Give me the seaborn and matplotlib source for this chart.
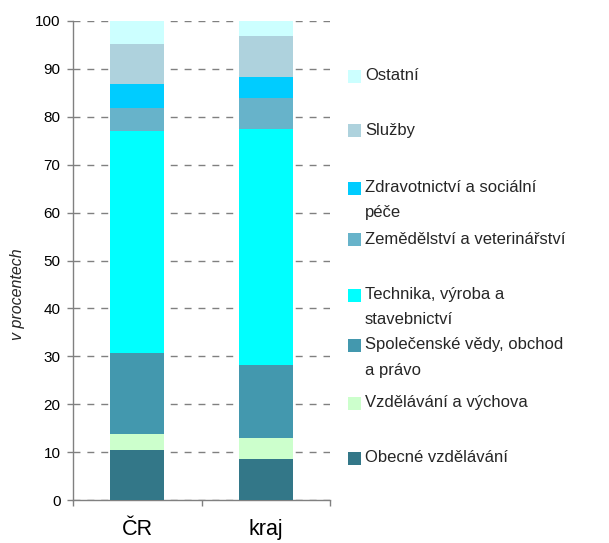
import matplotlib
matplotlib.use("Agg")
import matplotlib.pyplot as plt
import numpy as np
import pandas as pd
import seaborn as sns
from matplotlib.patches import Rectangle

# ---------------- data ----------------
regions = ["ČR", "kraj"]
fields = [
    "Obecné vzdělávání",
    "Vzdělávání a výchova",
    "Společenské vědy, obchod a právo",
    "Technika, výroba a stavebnictví",
    "Zemědělství a veterinářství",
    "Zdravotnictví a sociální péče",
    "Služby",
    "Ostatní",
]
legend_lines = [
    ["Obecné vzdělávání"],
    ["Vzdělávání a výchova"],
    ["Společenské vědy, obchod", "a právo"],
    ["Technika, výroba a", "stavebnictví"],
    ["Zemědělství a veterinářství"],
    ["Zdravotnictví a sociální", "péče"],
    ["Služby"],
    ["Ostatní"],
]
cr_values = [10.4, 3.3, 17.0, 46.4, 4.8, 5.0, 8.4, 4.7]
kraj_values = [8.5, 4.4, 15.3, 49.3, 6.5, 4.4, 8.5, 3.1]
colors = ["#337788", "#CCFFCC", "#4398AE", "#00FFFF",
          "#67B3CA", "#00CCFF", "#AED2DD", "#CCFFFF"]
yticks = list(range(0, 101, 10))
ylabel = "v procentech"

# ---------------- build table ----------------
rows = []
for reg, vals in zip(regions, [cr_values, kraj_values]):
    cum = np.cumsum(vals)
    for f, v, top in zip(fields, vals, cum):
        rows.append({"region": reg, "field": f, "value": v, "top": top})
df = pd.DataFrame(rows)

# ---------------- figure ----------------
sns.set_style("white")
plt.rcParams["font.family"] = ["Liberation Sans", "DejaVu Sans"]

W, H = 609, 543
fig = plt.figure(figsize=(W / 100, H / 100), dpi=100)
ax = fig.add_axes([73 / W, 1 - 500 / H, 257 / W, 479 / H])

# stacked bars: draw cumulative tops from largest to smallest
for f, c in reversed(list(zip(fields, colors))):
    sub = df[df["field"] == f]
    sns.barplot(data=sub, x="region", y="top", order=regions, color=c,
                saturation=1, width=0.42, errorbar=None, linewidth=0,
                ax=ax, zorder=3)

ax.set_xlim(-0.5, 1.5)
ax.set_ylim(0, 100)
ax.set_yticks(yticks)
ax.set_yticklabels([str(t) for t in yticks], fontsize=11)
ax.set_xlabel("")
ax.set_ylabel("")

# grid
ax.set_axisbelow(True)
ax.yaxis.grid(True, color="#808080", linestyle=(0, (5, 5)), linewidth=1.0, zorder=0)
ax.xaxis.grid(False)

# spines
for s in ["top", "right"]:
    ax.spines[s].set_visible(False)
for s in ["left", "bottom"]:
    ax.spines[s].set_color("#808080")
    ax.spines[s].set_linewidth(1.0)

ax.tick_params(axis="y", direction="out", length=4, width=1, color="#808080",
               left=True, pad=5, labelcolor="black")
ax.tick_params(axis="x", which="major", length=0, pad=14, labelsize=15.5,
               labelcolor="black")
ax.set_xticks([-0.5, 0.5, 1.5], minor=True)
ax.tick_params(axis="x", which="minor", direction="out", length=4, width=1,
               color="#808080", bottom=True)

# y label
fig.text(18 / W, 1 - 294 / H, ylabel, rotation=90, ha="center", va="center",
         style="italic", fontsize=11.5)

# legend (manual, Excel-like layout), top entry first
legend_y = [76, 130, 188, 239, 295, 345, 403, 458]
order = list(range(len(fields)))[::-1]
for yy, i in zip(legend_y, order):
    fig.add_artist(Rectangle((348 / W, 1 - (yy + 6.5) / H), 12.5 / W, 12.5 / H,
                             transform=fig.transFigure, facecolor=colors[i],
                             edgecolor="none"))
    for k, line in enumerate(legend_lines[i]):
        fig.text(365 / W, 1 - (yy + 25 * k) / H, line, ha="left",
                 va="center", fontsize=12)

fig.savefig("out.png", dpi=100)
